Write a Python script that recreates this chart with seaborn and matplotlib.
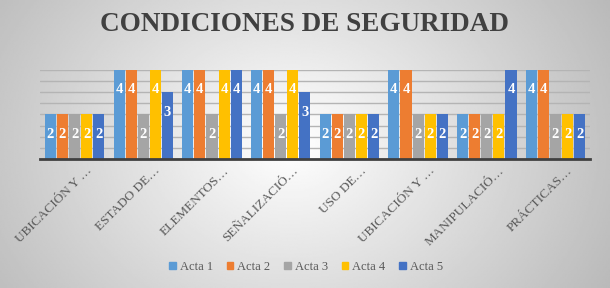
import numpy as np
import pandas as pd
import matplotlib
matplotlib.use("Agg")
import matplotlib.pyplot as plt
import matplotlib.transforms as mtransforms
import seaborn as sns

categorias = ["UBICACIÓN Y …", "ESTADO DE…", "ELEMENTOS…", "SEÑALIZACIÓ…",
              "USO DE…", "UBICACIÓN Y …", "MANIPULACIÓ…", "PRÁCTICAS…"]
series = ["Acta 1", "Acta 2", "Acta 3", "Acta 4", "Acta 5"]
acta1 = [2, 4, 4, 4, 2, 4, 2, 4]
acta2 = [2, 4, 4, 4, 2, 4, 2, 4]
acta3 = [2, 2, 2, 2, 2, 2, 2, 2]
acta4 = [2, 4, 4, 4, 2, 2, 2, 2]
acta5 = [2, 3, 4, 3, 2, 2, 4, 2]
colores = ["#5B9BD5", "#ED7D31", "#A5A5A5", "#FFC000", "#4472C4"]

# long format for seaborn (categories kept unique by position)
pos = [f"c{i}" for i in range(len(categorias))]
rows = []
for s, vals in zip(series, [acta1, acta2, acta3, acta4, acta5]):
    for p, v in zip(pos, vals):
        rows.append({"cat": p, "serie": s, "valor": v})
df = pd.DataFrame(rows)

sns.set_style("white")
plt.rcParams["font.family"] = ["Liberation Serif", "DejaVu Serif"]

fig = plt.figure(figsize=(6.1, 2.88), dpi=100)

# gradient background
bg = fig.add_axes([0, 0, 1, 1], zorder=-10)
xx = np.linspace(-1, 1, 400)
yy = np.linspace(-1, 1, 200)
X, Y = np.meshgrid(xx, yy)
r = np.sqrt(((X + 0.05) * 0.95) ** 2 + (Y * 0.55) ** 2)
vals = 1 - 0.24 * np.clip(r, 0, 1.2)
bg.imshow(vals, cmap="gray", vmin=0, vmax=1, aspect="auto", extent=[0, 1, 0, 1])
bg.set_axis_off()

ax = fig.add_axes([0.066, 0.448, 0.901, 0.309])
ax.patch.set_alpha(0)
sns.barplot(data=df, x="cat", y="valor", hue="serie", palette=colores,
            width=0.88, ax=ax, saturation=1, legend=False, zorder=3)

for patch in ax.patches:
    patch.set_edgecolor("none")
    w = patch.get_width()
    patch.set_width(w * 0.92)
    patch.set_x(patch.get_x() + w * 0.04)

for cont in ax.containers:
    ax.bar_label(cont, labels=[f"{int(v)}" for v in cont.datavalues],
                 padding=-19, color="white", fontsize=10.5, fontweight="bold")

ax.set_ylim(0, 4)
ax.set_yticks(np.arange(0, 4.01, 0.5))
ax.set_yticklabels([])
ax.tick_params(axis="y", length=0)
ax.set_axisbelow(True)
ax.yaxis.grid(True, color="#b4b4b4", linewidth=1.0)
ax.xaxis.grid(False)
ax.set_xlim(-0.5, len(categorias) - 0.5)
ax.set_xticks(range(len(categorias)))
ax.set_xticklabels(categorias, fontsize=9.5, color="#595959")
ax.tick_params(axis="x", length=0, pad=4)
offset = mtransforms.ScaledTranslation(0.11, 0, fig.dpi_scale_trans)
for t in ax.get_xticklabels():
    t.set_rotation(45)
    t.set_ha("right")
    t.set_va("top")
    t.set_rotation_mode("anchor")
    t.set_transform(t.get_transform() + offset)
ax.set_xlabel("")
ax.set_ylabel("")
for side in ["top", "left", "right"]:
    ax.spines[side].set_visible(False)
ax.spines["bottom"].set_color("#404040")
ax.spines["bottom"].set_linewidth(2)
ax.spines["bottom"].set_zorder(5)

fig.text(0.5, 0.915, "CONDICIONES DE SEGURIDAD", ha="center", va="center",
         fontsize=19.5, fontweight="bold", color="#404040")

handles = [plt.Rectangle((0, 0), 1, 1, color=c) for c in colores]
fig.legend(handles, series, loc="center", bbox_to_anchor=(0.502, 0.073), ncol=5,
           frameon=False, fontsize=9, handlelength=0.5, handleheight=0.5,
           handletextpad=0.35, columnspacing=1.1, labelcolor="#595959")

fig.savefig("out.png", dpi=100)
